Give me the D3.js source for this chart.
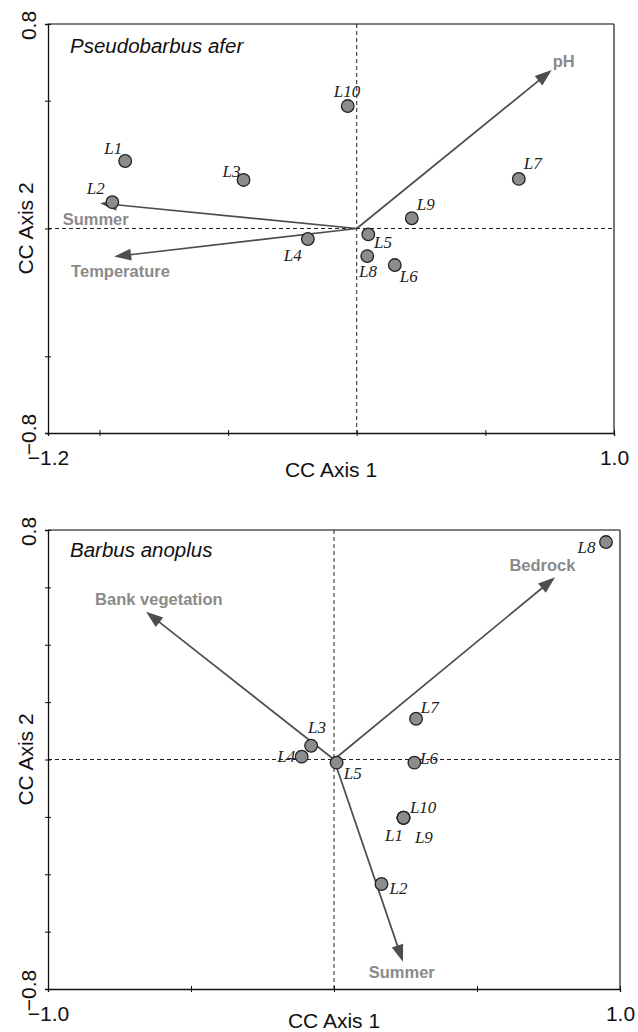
<!DOCTYPE html>
<html>
<head>
<meta charset="utf-8">
<script src="https://cdn.jsdelivr.net/npm/d3@7"></script>
<style>
  html, body { margin: 0; padding: 0; background: #fff; }
  svg { display: block; }
</style>
</head>
<body>
<svg id="chart" width="638" height="1032"></svg>
<script>
// ---------------- DATA ----------------
// Panel 1: Pseudobarbus afer
const topTitle = "Pseudobarbus afer";
const topSites = ["L1", "L2", "L3", "L4", "L5", "L6", "L7", "L8", "L9", "L10"];
const topAxis1 = [-0.90, -0.95, -0.44, -0.19, 0.045, 0.148, 0.63, 0.041, 0.214, -0.035];
const topAxis2 = [0.264, 0.103, 0.19, -0.041, -0.023, -0.143, 0.194, -0.108, 0.040, 0.479];
const topVectors = ["pH", "Summer", "Temperature"];
const topVec1 = [0.758, -0.998, -0.943];
const topVec2 = [0.620, 0.099, -0.110];
const topXDomain = [-1.2, 1.0];
const topYDomain = [-0.8, 0.8];
const topXTicks = [-1.2, -1.0, -0.5, 0, 0.5, 1.0];
const topXTickLabels = ["\u22121.2", "", "", "", "", "1.0"];
const topYTicks = [-0.8, -0.5, 0, 0.5, 0.8];
const topYTickLabels = ["\u22120.8", "", "", "", "0.8"];

// Panel 2: Barbus anoplus
const botTitle = "Barbus anoplus";
const botSites = ["L1", "L2", "L3", "L4", "L5", "L6", "L7", "L8", "L9", "L10"];
const botAxis1 = [0.243, 0.166, -0.080, -0.113, 0.009, 0.281, 0.287, 0.951, 0.243, 0.243];
const botAxis2 = [-0.203, -0.434, 0.048, 0.010, -0.011, -0.011, 0.142, 0.758, -0.203, -0.203];
const botVectors = ["Bedrock", "Bank vegetation", "Summer"];
const botVec1 = [0.773, -0.657, 0.241];
const botVec2 = [0.635, 0.515, -0.705];
const botXDomain = [-1.0, 1.0];
const botYDomain = [-0.8, 0.8];
const botXTicks = [-1.0, -0.5, 0, 0.5, 1.0];
const botXTickLabels = ["\u22121.0", "", "", "", "1.0"];
const botYTicks = [-0.8, -0.6, -0.4, -0.2, 0, 0.2, 0.4, 0.6, 0.8];
const botYTickLabels = ["\u22120.8", "", "", "", "", "", "", "", "0.8"];

const xAxisTitle = "CC Axis 1";
const yAxisTitle = "CC Axis 2";

// ---------------- LAYOUT ----------------
const panels = [
  {
    box: {x0: 48, x1: 614, y0: 24, y1: 433},
    title: topTitle, sites: topSites, a1: topAxis1, a2: topAxis2,
    vecs: topVectors, v1: topVec1, v2: topVec2,
    xd: topXDomain, yd: topYDomain,
    xt: topXTicks, xtl: topXTickLabels, yt: topYTicks, ytl: topYTickLabels,
    titleBase: 29, xTitleOff: 44,
    siteOff: {
      L1: [-21, -6.7], L2: [-25.5, -8], L3: [-21, -3], L4: [-24, 21.7], L5: [5.7, 13.5],
      L6: [5, 17], L7: [5, -10], L8: [-8.3, 21], L9: [5, -8.3], L10: [-14, -9.3]
    },
    vecOff: { "pH": [1, -3], "Summer": [-37.3, 21.7], "Temperature": [-43, 20] }
  },
  {
    box: {x0: 48, x1: 620, y0: 530, y1: 989},
    title: botTitle, sites: botSites, a1: botAxis1, a2: botAxis2,
    vecs: botVectors, v1: botVec1, v2: botVec2,
    xd: botXDomain, yd: botYDomain,
    xt: botXTicks, xtl: botXTickLabels, yt: botYTicks, ytl: botYTickLabels,
    titleBase: 27.3, xTitleOff: 39,
    siteOff: {
      L1: [-18.5, 23], L2: [8, 10.3], L3: [-3, -12.4], L4: [-24.5, 5], L5: [7.3, 16.5],
      L6: [5.7, 1], L7: [4.7, -5.4], L8: [-28.5, 11], L9: [11.4, 25], L10: [6.4, -5]
    },
    vecOff: { "Bedrock": [-45.7, -6.6], "Bank vegetation": [-51, -6.7], "Summer": [-34.2, 16.3] }
  }
];

const svg = d3.select("#chart");
const SANS = "'Liberation Sans', Arial, Helvetica, sans-serif";
const SERIF = "'Liberation Serif', 'Times New Roman', serif";

panels.forEach(p => {
  const b = p.box;
  const x = d3.scaleLinear().domain(p.xd).range([b.x0, b.x1]);
  const y = d3.scaleLinear().domain(p.yd).range([b.y1, b.y0]);
  const g = svg.append("g");

  // frame (top/right grey)
  g.append("line").attr("x1", b.x0).attr("x2", b.x1).attr("y1", b.y0).attr("y2", b.y0)
    .attr("stroke", "#555").attr("stroke-width", 1.5);
  g.append("line").attr("x1", b.x1).attr("x2", b.x1).attr("y1", b.y0).attr("y2", b.y1)
    .attr("stroke", "#555").attr("stroke-width", 1.6);

  // dashed zero lines
  g.append("line").attr("x1", x(0)).attr("x2", x(0)).attr("y1", b.y0).attr("y2", b.y1)
    .attr("stroke", "#222").attr("stroke-width", 1).attr("stroke-dasharray", "4,3");
  g.append("line").attr("x1", b.x0).attr("x2", b.x1).attr("y1", y(0)).attr("y2", y(0))
    .attr("stroke", "#222").attr("stroke-width", 1).attr("stroke-dasharray", "4,3");

  // x axis
  const xa = g.append("g").attr("transform", `translate(0,${b.y1})`)
    .call(d3.axisBottom(x).tickValues(p.xt).tickSizeOuter(0).tickSize(3)
      .tickFormat((d, i) => p.xtl[i]));
  xa.select(".domain").attr("stroke", "#111").attr("stroke-width", 1.3);
  xa.selectAll(".tick line").attr("y1", -3).attr("y2", 3).attr("stroke", "#111").attr("stroke-width", 1);
  xa.selectAll(".tick text").attr("y", 0).attr("dy", 0).attr("transform", "translate(0,32)")
    .attr("font-family", SANS).attr("font-size", 21).attr("fill", "#111");

  // y axis
  const ya = g.append("g").attr("transform", `translate(${b.x0},0)`)
    .call(d3.axisLeft(y).tickValues(p.yt).tickSizeOuter(0).tickSize(3)
      .tickFormat((d, i) => p.ytl[i]));
  ya.select(".domain").attr("stroke", "#111").attr("stroke-width", 1.3);
  ya.selectAll(".tick line").attr("x1", -3).attr("x2", 3).attr("stroke", "#111").attr("stroke-width", 1);
  ya.selectAll(".tick text").attr("x", 0).attr("dy", 0).attr("y", 0)
    .attr("transform", "translate(-12,1) rotate(-90)")
    .attr("text-anchor", "middle")
    .attr("font-family", SANS).attr("font-size", 21).attr("fill", "#111");

  // axis titles
  g.append("text").attr("x", (b.x0 + b.x1) / 2).attr("y", b.y1 + p.xTitleOff)
    .attr("text-anchor", "middle").attr("font-family", SANS).attr("font-size", 21)
    .attr("fill", "#111").text(xAxisTitle);
  g.append("text").attr("transform", `translate(33,${(b.y0 + b.y1) / 2}) rotate(-90)`)
    .attr("text-anchor", "middle").attr("font-family", SANS).attr("font-size", 21)
    .attr("fill", "#111").text(yAxisTitle);

  // panel title
  g.append("text").attr("x", b.x0 + 22).attr("y", b.y0 + p.titleBase)
    .attr("font-family", SANS).attr("font-style", "italic").attr("font-size", 20.5)
    .attr("fill", "#111").text(p.title);

  // vectors (arrows)
  const vecData = p.vecs.map((n, i) => ({name: n, v1: p.v1[i], v2: p.v2[i]}));
  const ox = x(0), oy = y(0);
  const headL = 17, headW = 6;
  vecData.forEach(v => {
    const tx = x(v.v1), ty = y(v.v2);
    const dx = tx - ox, dy = ty - oy, len = Math.hypot(dx, dy);
    const ux = dx / len, uy = dy / len, nx = -uy, ny = ux;
    const bx = tx - ux * headL, by = ty - uy * headL;
    g.append("line").attr("x1", ox).attr("y1", oy).attr("x2", bx + ux * 1).attr("y2", by + uy * 1)
      .attr("stroke", "#4d4d4d").attr("stroke-width", 1.7);
    g.append("path")
      .attr("d", `M${tx},${ty}L${bx + nx * headW},${by + ny * headW}L${bx - nx * headW},${by - ny * headW}Z`)
      .attr("fill", "#4d4d4d");
    const off = p.vecOff[v.name];
    g.append("text").attr("x", tx + off[0]).attr("y", ty + off[1])
      .attr("font-family", SANS).attr("font-weight", "bold").attr("font-size", 16.5)
      .attr("fill", "#8a8a8a").text(v.name);
  });

  // sites
  const siteData = p.sites.map((n, i) => ({name: n, a1: p.a1[i], a2: p.a2[i]}));
  g.selectAll("circle.site").data(siteData).enter().append("circle")
    .attr("class", "site")
    .attr("cx", d => x(d.a1)).attr("cy", d => y(d.a2)).attr("r", 6.3)
    .attr("fill", "#8c8c8c").attr("stroke", "#222").attr("stroke-width", 1.3);
  g.selectAll("text.site").data(siteData).enter().append("text")
    .attr("class", "site")
    .attr("x", d => x(d.a1) + p.siteOff[d.name][0])
    .attr("y", d => y(d.a2) + p.siteOff[d.name][1])
    .attr("font-family", SERIF).attr("font-style", "italic").attr("font-size", 17)
    .attr("fill", "#222").text(d => d.name);
});
</script>
</body>
</html>
